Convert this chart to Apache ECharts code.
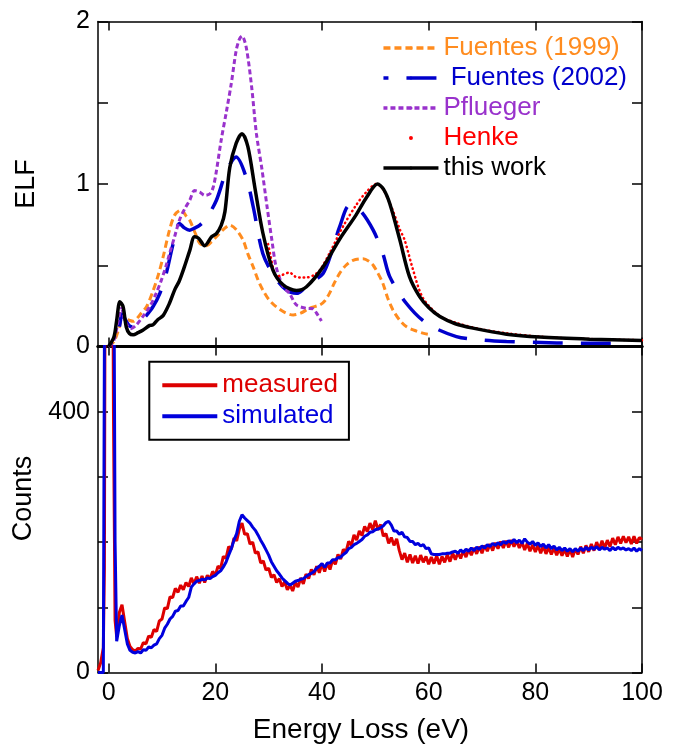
<!DOCTYPE html>
<html>
<head>
<meta charset="utf-8">
<script src="https://cdn.jsdelivr.net/npm/echarts@6/dist/echarts.min.js"></script>
<style>
html,body{margin:0;padding:0;background:#fff;}
#chart{width:699px;height:751px;}
</style>
</head>
<body>
<div id="chart"></div>
<script>
// ---------- ELF panel data (energy in eV, ELF) ----------
const fuentes1999E = [0, 1, 2, 2.6, 3.3, 4.0, 4.6, 5.5, 6.1, 7.1, 8.3, 9.3, 10.2, 11.4, 12.4, 13.6, 14.6, 15.2, 16.2, 17.1, 18.4, 19.3, 20.2, 21.5, 22.7, 23.9, 25.2, 26.1, 27.1, 28.0, 28.9, 30.0, 31.4, 33.0, 34.6, 36.0, 37.7, 39.6, 40.5, 41.4, 42.3, 43.3, 44.5, 45.8, 47.7, 48.8, 49.6, 50.5, 51.4, 52.3, 53.3, 54.5, 55.8, 57.3, 58.9, 60];
const fuentes1999 = [0, 0.03, 0.12, 0.2, 0.17, 0.16, 0.155, 0.18, 0.205, 0.245, 0.34, 0.44, 0.55, 0.716, 0.81, 0.84, 0.80, 0.777, 0.70, 0.634, 0.62, 0.645, 0.675, 0.72, 0.747, 0.72, 0.655, 0.57, 0.49, 0.41, 0.348, 0.29, 0.245, 0.21, 0.194, 0.205, 0.236, 0.256, 0.28, 0.327, 0.39, 0.45, 0.50, 0.53, 0.54, 0.525, 0.50, 0.45, 0.39, 0.30, 0.225, 0.165, 0.123, 0.10, 0.082, 0.075];

const fuentes2002E = [0, 1, 2, 2.5, 3.2, 4.0, 5.0, 5.8, 6.4, 8.3, 9.6, 10.8, 12.1, 13.3, 14.2, 15.2, 16.2, 17.1, 18.3, 20.2, 22.1, 23.9, 25.8, 27.1, 28.9, 31.1, 33.3, 35.2, 37.7, 40.2, 41.8, 43.3, 45.2, 47.1, 49.6, 51.4, 52.7, 55.8, 59.6, 65.2, 70, 74.6, 84, 93.3, 97];
const fuentes2002 = [0, 0.04, 0.12, 0.2, 0.16, 0.125, 0.12, 0.143, 0.164, 0.245, 0.327, 0.45, 0.634, 0.757, 0.73, 0.716, 0.73, 0.747, 0.788, 0.90, 1.08, 1.166, 1.04, 0.86, 0.573, 0.43, 0.348, 0.327, 0.39, 0.45, 0.58, 0.736, 0.87, 0.84, 0.716, 0.573, 0.43, 0.266, 0.143, 0.061, 0.04, 0.031, 0.022, 0.02, 0.02];

const pfluegerE = [0, 1, 1.8, 2.4, 3.0, 3.6, 4.2, 5.2, 6.4, 7.7, 8.9, 9.9, 10.8, 11.4, 12.4, 13.3, 14.3, 15.2, 16.1, 17.1, 18.0, 19.0, 19.6, 20.2, 21.1, 22.1, 23.0, 23.9, 24.5, 25.0, 25.8, 26.8, 27.7, 28.7, 29.7, 30.6, 31.4, 32.7, 33.9, 35.2, 37.1, 38.3, 39.2, 39.9];
const pflueger = [0, 0.04, 0.16, 0.235, 0.164, 0.123, 0.11, 0.133, 0.184, 0.245, 0.327, 0.41, 0.50, 0.57, 0.68, 0.78, 0.85, 0.90, 0.96, 0.95, 0.93, 0.94, 0.98, 1.08, 1.27, 1.45, 1.62, 1.82, 1.89, 1.91, 1.84, 1.60, 1.31, 1.10, 0.86, 0.655, 0.49, 0.37, 0.327, 0.256, 0.235, 0.232, 0.194, 0.157];

const henkeE = [29.9, 30.4, 31.0, 31.5, 32.5, 33.9, 35.0, 36.0, 37.1, 38.5, 39.6, 41.4, 43.9, 46.4, 48.3, 50.2, 51.4, 53.0, 54.6, 55.5, 57.0, 58.9, 62.0, 65.2, 70, 75, 80, 85, 90, 95, 100];
const henke = [0.63, 0.55, 0.46, 0.43, 0.44, 0.455, 0.43, 0.425, 0.425, 0.44, 0.47, 0.573, 0.736, 0.87, 0.95, 1.0, 0.97, 0.86, 0.72, 0.655, 0.48, 0.30, 0.19, 0.145, 0.105, 0.08, 0.063, 0.052, 0.046, 0.042, 0.038];

const thisWorkE = [0, 1, 1.5, 2.1, 2.7, 3.3, 3.9, 4.6, 5.5, 6.4, 7.7, 8.3, 9.2, 10.2, 11.4, 12.4, 13.2, 14.2, 15.2, 16.1, 16.9, 18.0, 19.3, 20.2, 21.1, 21.8, 22.7, 23.9, 25.0, 26.1, 27.4, 28.9, 30.8, 32.7, 35.2, 37.1, 40.2, 43.3, 46.4, 48.4, 50.4, 51.5, 52.7, 54.6, 56.4, 58.3, 60.0, 62.1, 65.0, 68.3, 74.6, 80.8, 90.2, 100];
const thisWork = [0, 0.06, 0.16, 0.276, 0.245, 0.12, 0.08, 0.072, 0.085, 0.10, 0.13, 0.133, 0.165, 0.19, 0.266, 0.35, 0.40, 0.49, 0.59, 0.675, 0.665, 0.62, 0.675, 0.695, 0.745, 0.83, 1.10, 1.25, 1.31, 1.23, 0.98, 0.70, 0.47, 0.38, 0.345, 0.368, 0.49, 0.66, 0.81, 0.92, 1.0, 0.97, 0.88, 0.655, 0.43, 0.307, 0.24, 0.184, 0.14, 0.113, 0.076, 0.058, 0.045, 0.037];

// ---------- Counts panel data ----------
const lossE = [-2, -1.5, -1, -0.8, -0.6, -0.3, 0, 0.3, 0.6, 0.9, 1.2, 1.5, 2, 2.5, 3, 3.5, 4, 4.5,
  5, 5.5, 6, 6.5, 7, 7.5, 8, 8.5, 9, 9.5, 10, 10.5, 11, 11.5, 12, 12.5, 13, 13.5, 14, 14.5,
  15, 15.5, 16, 16.5, 17, 17.5, 18, 18.5, 19, 19.5, 20, 20.5, 21, 21.5, 22, 22.5, 23, 23.5, 24, 24.5,
  25, 25.5, 26, 26.5, 27, 27.5, 28, 28.5, 29, 29.5, 30, 30.5, 31, 31.5, 32, 32.5, 33, 33.5, 34, 34.5,
  35, 35.5, 36, 36.5, 37, 37.5, 38, 38.5, 39, 39.5, 40, 40.5, 41, 41.5, 42, 42.5, 43, 43.5, 44, 44.5,
  45, 45.5, 46, 46.5, 47, 47.5, 48, 48.5, 49, 49.5, 50, 50.5, 51, 51.5, 52, 52.5, 53, 53.5, 54, 54.5,
  55, 55.5, 56, 56.5, 57, 57.5, 58, 58.5, 59, 59.5, 60, 60.5, 61, 61.5, 62, 62.5, 63, 63.5, 64, 64.5,
  65, 65.5, 66, 66.5, 67, 67.5, 68, 68.5, 69, 69.5, 70, 70.5, 71, 71.5, 72, 72.5, 73, 73.5, 74, 74.5,
  75, 75.5, 76, 76.5, 77, 77.5, 78, 78.5, 79, 79.5, 80, 80.5, 81, 81.5, 82, 82.5, 83, 83.5, 84, 84.5,
  85, 85.5, 86, 86.5, 87, 87.5, 88, 88.5, 89, 89.5, 90, 90.5, 91, 91.5, 92, 92.5, 93, 93.5, 94, 94.5,
  95, 95.5, 96, 96.5, 97, 97.5, 98, 98.5, 99, 99.5, 100];
const measured = [3, 15, 38, 160, 900, 1800, 2000, 1800, 1000, 400, 80, 55, 92, 104, 78, 52, 40, 35,
  33, 37, 36, 46, 44, 56, 54, 66, 63, 79, 82, 99, 98, 116, 115, 129, 123, 134, 127, 138,
  132, 145, 136, 147, 137, 148, 138, 149, 144, 155, 149, 163, 160, 178, 175, 193, 189, 206, 202, 220,
  229, 212, 213, 197, 200, 183, 185, 168, 171, 157, 160, 146, 150, 138, 144, 132, 139, 127, 134, 125,
  138, 131, 145, 136, 151, 144, 158, 150, 163, 153, 167, 155, 168, 158, 173, 166, 181, 174, 189, 185,
  201, 195, 211, 203, 217, 210, 224, 216, 229, 219, 233, 219, 227, 209, 213, 198, 207, 195, 205, 187,
  173, 183, 169, 181, 168, 179, 167, 180, 169, 178, 166, 177, 167, 179, 166, 178, 169, 181, 170, 183,
  173, 184, 175, 187, 177, 189, 180, 191, 182, 193, 183, 195, 186, 197, 187, 199, 190, 201, 191, 202,
  192, 203, 193, 202, 191, 200, 188, 198, 186, 196, 185, 195, 183, 194, 182, 192, 181, 191, 180, 190,
  179, 189, 178, 189, 177, 190, 181, 193, 183, 195, 185, 197, 187, 200, 189, 202, 191, 203, 193, 206,
  196, 208, 198, 209, 199, 208, 197, 209, 198, 207, 204];
const simulated = [0, 0, 0, 0, 1000, 2000, 2200, 2000, 1500, 800, 200, 48, 72, 88, 66, 44, 34, 31,
  30, 32, 30, 35, 34, 39, 38, 42, 44, 52, 57, 68, 74, 82, 86, 94, 95, 102, 102, 109,
  115, 131, 136, 140, 141, 143, 142, 145, 144, 147, 149, 153, 156, 162, 169, 180, 190, 203, 213, 232,
  242, 237, 233, 229, 223, 218, 211, 203, 196, 188, 180, 170, 163, 156, 151, 145, 141, 137, 134, 137,
  140, 141, 143, 144, 147, 150, 152, 155, 160, 163, 167, 161, 168, 168, 173, 173, 176, 177, 181, 184,
  190, 192, 196, 198, 201, 204, 209, 211, 215, 216, 219, 220, 222, 225, 230, 232, 226, 217, 217, 212,
  215, 208, 207, 201, 201, 196, 198, 194, 196, 190, 191, 182, 181, 181, 181, 182, 182, 183, 183, 185,
  186, 183, 188, 184, 189, 186, 191, 187, 192, 189, 194, 191, 196, 193, 198, 195, 199, 196, 201, 198,
  202, 199, 204, 199, 203, 198, 205, 200, 197, 201, 195, 199, 193, 197, 191, 196, 190, 194, 188, 192,
  187, 191, 186, 190, 185, 190, 186, 191, 187, 192, 188, 192, 189, 193, 188, 192, 189, 191, 187, 192,
  188, 192, 189, 191, 188, 190, 187, 191, 186, 190, 187];

// ---------- axis ticks / labels ----------
const energyTicks = [0, 20, 40, 60, 80, 100];
const elfLabels = [0, 1, 2];
const countLabels = [0, 400];

const FONT = "'Liberation Sans', Arial, Helvetica, sans-serif";
const ORANGE = '#ff8c1f', BLUE = '#0000cc', PURPLE = '#9932cc', RED = '#ff0000', BLACK = '#000000';
const MRED = '#dd0000', SBLUE = '#0000dd';

function zip(xs, ys) { return xs.map((x, i) => [x, ys[i]]); }

const chart = echarts.init(document.getElementById('chart'), null, { renderer: 'canvas' });

function xAx(grid, pos, opts) {
  return Object.assign({
    type: 'value', gridIndex: grid, position: pos, min: -2, max: 100,
    axisLine: { show: true, onZero: false, lineStyle: { color: '#000', width: 1.5 } },
    axisTick: { show: true, inside: true, length: 9, customValues: energyTicks, lineStyle: { color: '#000', width: 1.5 } },
    axisLabel: { show: false },
    splitLine: { show: false }
  }, opts || {});
}
function yAx(grid, pos, min, max, interval, labelVals, opts, labelPad) {
  return Object.assign({
    type: 'value', gridIndex: grid, position: pos, min: min, max: max, interval: interval,
    axisLine: { show: true, onZero: false, lineStyle: { color: '#000', width: 1.5 } },
    axisTick: { show: true, inside: true, length: 10, lineStyle: { color: '#000', width: 1.5 } },
    axisLabel: labelVals ? {
      show: true, margin: 8, color: '#000', fontFamily: FONT, fontSize: 25,
      padding: labelPad || 0,
      formatter: v => (labelVals.indexOf(v) >= 0 ? String(v) : '')
    } : { show: false },
    splitLine: { show: false }
  }, opts || {});
}

const option = {
  backgroundColor: '#fff',
  animation: false,
  grid: [
    { left: 98, right: 57, top: 21.5, height: 325 },
    { left: 98, right: 57, top: 346.5, height: 326 }
  ],
  xAxis: [
    xAx(0, 'bottom', { axisLine: { show: true, onZero: false, lineStyle: { color: '#000', width: 3 } } }),
    xAx(0, 'top'),
    xAx(1, 'bottom', {
      axisLabel: { show: true, customValues: energyTicks, margin: 8, color: '#000', fontFamily: FONT, fontSize: 25 },
      name: 'Energy Loss (eV)', nameLocation: 'middle', nameGap: 44,
      nameTextStyle: { color: '#000', fontFamily: FONT, fontSize: 28, padding: [0, 18, 0, 0] }
    }),
    xAx(1, 'top', { axisLine: { show: true, onZero: false, lineStyle: { color: '#000', width: 3 } } })
  ],
  yAxis: [
    yAx(0, 'left', 0, 2, 0.5, elfLabels, {
      name: 'ELF', nameLocation: 'middle', nameGap: 58,
      nameTextStyle: { color: '#000', fontFamily: FONT, fontSize: 27 }
    }, [0, 0, 7, 0]),
    yAx(0, 'right', 0, 2, 0.5, null),
    yAx(1, 'left', 0, 500, 100, countLabels, {
      name: 'Counts', nameLocation: 'middle', nameGap: 58,
      nameTextStyle: { color: '#000', fontFamily: FONT, fontSize: 27, padding: [0, 0, 0, 22] }
    }),
    yAx(1, 'right', 0, 500, 100, null)
  ],
  legend: [
    {
      orient: 'vertical', left: 381.7, top: 33, padding: 0,
      itemWidth: 55, itemHeight: 4, itemGap: 0, selectedMode: false,
      textStyle: { fontFamily: FONT, fontSize: 26, lineHeight: 30 },
      lineStyle: { width: 3.5 },
      formatter: n => (n === 'Fuentes (2002)' ? ' ' + n : n),
      data: [
        { name: 'Fuentes (1999)', textStyle: { color: ORANGE } },
        { name: 'Fuentes (2002)', textStyle: { color: BLUE } },
        { name: 'Pflueger', textStyle: { color: PURPLE } },
        { name: 'Henke', icon: 'circle', textStyle: { color: RED } },
        { name: 'this work', textStyle: { color: BLACK } }
      ]
    },
    {
      orient: 'vertical', left: 149.3, top: 361.7, padding: [8, 11, 8, 11],
      borderColor: '#000', borderWidth: 2, backgroundColor: '#fff',
      itemWidth: 55, itemHeight: 3, itemGap: 0, selectedMode: false,
      textStyle: { fontFamily: FONT, fontSize: 26, lineHeight: 31 },
      lineStyle: { width: 4 },
      data: [
        { name: 'measured', textStyle: { color: MRED } },
        { name: 'simulated', textStyle: { color: SBLUE } }
      ]
    }
  ],
  series: [
    {
      name: 'Fuentes (1999)', type: 'line', xAxisIndex: 0, yAxisIndex: 0,
      data: zip(fuentes1999E, fuentes1999), symbol: 'none', smooth: 0.3, color: ORANGE,
      lineStyle: { color: ORANGE, width: 3, type: [7, 4] }
    },
    {
      name: 'Fuentes (2002)', type: 'line', xAxisIndex: 0, yAxisIndex: 0,
      data: zip(fuentes2002E, fuentes2002), symbol: 'none', smooth: 0.3, color: BLUE,
      lineStyle: { color: BLUE, width: 3.5, type: [30, 18], dashOffset: 25 }
    },
    {
      name: 'Pflueger', type: 'line', xAxisIndex: 0, yAxisIndex: 0,
      data: zip(pfluegerE, pflueger), symbol: 'none', smooth: 0.3, color: PURPLE,
      lineStyle: { color: PURPLE, width: 3, type: [5, 3] }
    },
    {
      name: 'Henke', type: 'line', xAxisIndex: 0, yAxisIndex: 0,
      data: zip(henkeE, henke), symbol: 'none', smooth: 0.3, color: RED,
      lineStyle: { color: RED, width: 2.5, type: [0.5, 4], cap: 'round' }
    },
    {
      name: 'this work', type: 'line', xAxisIndex: 0, yAxisIndex: 0,
      data: zip(thisWorkE, thisWork), symbol: 'none', smooth: 0.3, color: BLACK, z: 5,
      lineStyle: { color: BLACK, width: 3.5 }
    },
    {
      name: 'measured', type: 'line', xAxisIndex: 2, yAxisIndex: 2,
      data: zip(lossE, measured), symbol: 'none', color: MRED,
      lineStyle: { color: MRED, width: 3 }
    },
    {
      name: 'simulated', type: 'line', xAxisIndex: 2, yAxisIndex: 2,
      data: zip(lossE, simulated), symbol: 'none', color: SBLUE, z: 3,
      lineStyle: { color: SBLUE, width: 3 }
    }
  ]
};
chart.setOption(option);
</script>
</body>
</html>
